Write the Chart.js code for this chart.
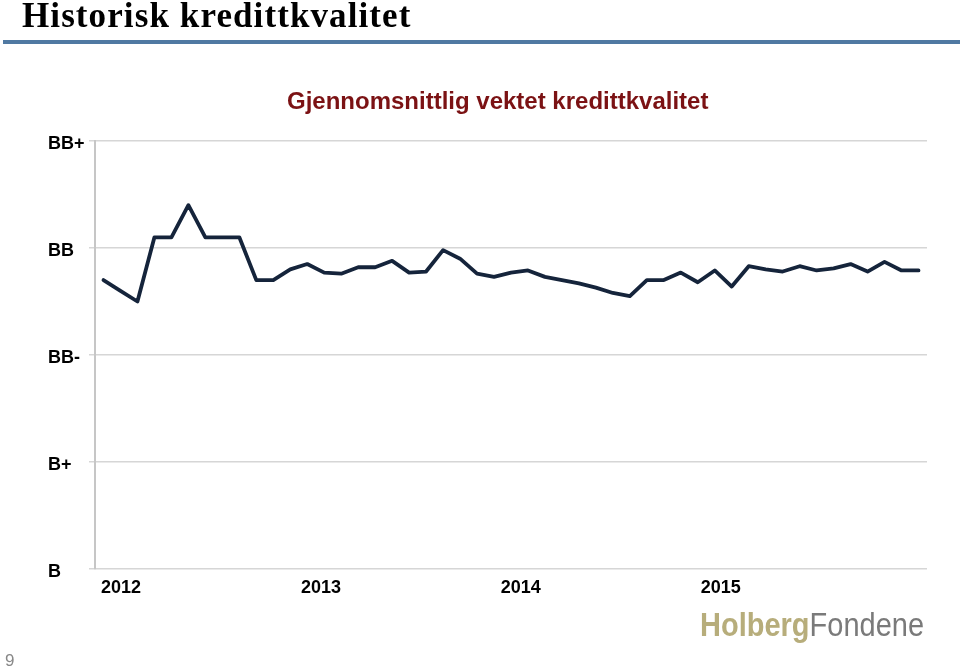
<!DOCTYPE html>
<html>
<head>
<meta charset="utf-8">
<script src="https://cdn.jsdelivr.net/npm/chart.js@4"></script>
<style>
  html, body { margin: 0; padding: 0; background: #fff; }
  #side { position: relative; width: 960px; height: 669px; overflow: hidden; }
  #boks { position: absolute; left: 0; top: 0; width: 960px; height: 669px; }
  .tekst { position: absolute; white-space: nowrap; }
  #overskrift { left: 22px; top: -2px; font: bold 35px "Liberation Serif", "Times New Roman", serif; line-height: 35px; letter-spacing: 1.1px; color: #000; }
  #strek { position: absolute; left: 3px; top: 40px; width: 957px; height: 4px; background: #5079a2; }
  #tittel { left: 287px; top: 89px; font: bold 24px "Liberation Sans", Arial, sans-serif; line-height: 24px; color: #7b1214; }
  #logo { left: 700px; top: 613px; font: 29px "Liberation Sans", Arial, sans-serif; line-height: 29px; transform: scaleY(1.12); transform-origin: left bottom; }
  #logo b { color: #b7ad7b; }
  #logo span { color: #7a7a7a; }
  #sidetall { left: 5px; top: 652px; font: 17px "Liberation Sans", Arial, sans-serif; line-height: 17px; color: #888; }
</style>
</head>
<body>
<div id="side">
  <div id="boks"><canvas id="grafikk"></canvas></div>
  <div class="tekst" id="overskrift">Historisk kredittkvalitet</div>
  <div id="strek"></div>
  <div class="tekst" id="tittel">Gjennomsnittlig vektet kredittkvalitet</div>
  <div class="tekst" id="logo"><b>Holberg</b><span>Fondene</span></div>
  <div class="tekst" id="sidetall">9</div>
</div>
<script>
// karakterskala, B = 0 ... BB+ = 4
var karakterer = ['B', 'B+', 'BB-', 'BB', 'BB+']
var aar = ['2012', '2013', '2014', '2015']
var aarPosisjon = [-0.15, 11.63, 23.39, 35.17]   // hvor aarstallene staar langs x
var kvalitet = [2.70, 2.60, 2.50, 3.10, 3.10, 3.40, 3.10, 3.10, 3.10, 2.70,
                2.70, 2.80, 2.85, 2.77, 2.76, 2.82, 2.82, 2.88, 2.77, 2.78,
                2.98, 2.90, 2.76, 2.73, 2.77, 2.79, 2.73, 2.70, 2.67, 2.63,
                2.58, 2.55, 2.70, 2.70, 2.77, 2.68, 2.79, 2.64, 2.83, 2.80,
                2.78, 2.83, 2.79, 2.81, 2.85, 2.78, 2.87, 2.79, 2.79]

var punkter = kvalitet.map(function (v, i) { return { x: i, y: v } })

var grafikk = new Chart(document.getElementById('grafikk'), {
  type: 'line',
  data: {
    datasets: [{
      label: 'kredittkvalitet',
      data: punkter,
      borderColor: '#15243b',
      borderWidth: 3.8,
      borderJoinStyle: 'round',
      borderCapStyle: 'round',
      pointRadius: 0,
      tension: 0,
      fill: false
    }]
  },
  options: {
    responsive: true,
    maintainAspectRatio: false,
    animation: false,
    layout: { padding: { left: 48, right: 33, top: 141, bottom: 66 } },
    plugins: {
      legend: { display: false },
      tooltip: { enabled: false },
      title: { display: false }
    },
    scales: {
      x: {
        type: 'linear',
        min: -0.5,
        max: kvalitet.length - 0.5,
        grid: { display: false, drawTicks: false },
        border: { display: false },
        afterBuildTicks: function (skala) {
          skala.ticks = aarPosisjon.map(function (p) { return { value: p } })
        },
        afterFit: function (skala) { skala.height = 34 },
        ticks: {
          autoSkip: false,
          maxRotation: 0,
          align: 'start',
          padding: 8,
          color: '#000',
          font: { family: '"Liberation Sans", Arial, sans-serif', size: 18, weight: 'bold' },
          callback: function (v, i) { return aar[i] }
        }
      },
      y: {
        min: 0,
        max: 4,
        afterFit: function (skala) { skala.width = 47 },
        grid: { color: '#d6d6d6', lineWidth: 1.5, tickLength: 6 },
        border: { color: '#c6c6c6', width: 2 },
        ticks: {
          stepSize: 1,
          crossAlign: 'far',
          labelOffset: 3,
          color: '#000',
          font: { family: '"Liberation Sans", Arial, sans-serif', size: 18, weight: 'bold' },
          callback: function (v) { return karakterer[v] }
        }
      }
    }
  }
})
</script>
</body>
</html>
